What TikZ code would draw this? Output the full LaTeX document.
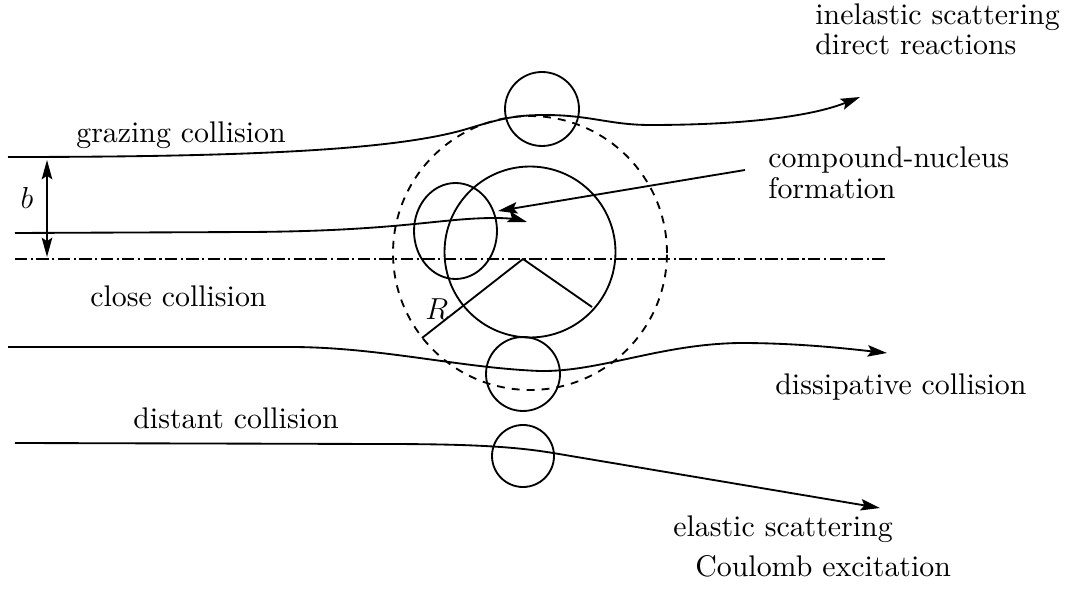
\documentclass[tikz,border=0pt]{standalone}
\usepackage{fontspec}
\setmainfont{lmroman10-regular.otf}
\usetikzlibrary{arrows.meta}
\begin{document}
\begin{tikzpicture}[x=0.02cm,y=-0.02cm,
  ln/.style={line width=1.05pt},
  tipped/.style={ln,-{Stealth[length=11pt,width=6.5pt,inset=2pt]}},
  lbl/.style={anchor=base west,inner sep=0pt,font=\fontsize{17}{20}\selectfont},
  mlbl/.style={inner sep=0pt,font=\fontsize{17}{20}\selectfont}]
\useasboundingbox (0,0) rectangle (1071,590);

% centres
\coordinate (ctr) at (530,252);
\coordinate (apex) at (523,259);
\coordinate (ctop) at (542,109);
\coordinate (cleft) at (455.5,231);
\coordinate (cbot) at (523,374);
\coordinate (clow) at (523,456);

% nucleus and interaction radius
\draw[ln] (ctr) circle[radius=1.71cm];
\draw[ln,dash pattern=on 4.5pt off 4pt] (530,253) circle[radius=2.74cm];

% projectiles
\draw[ln] (ctop) circle[radius=0.74cm];
\draw[ln] (cleft) ellipse[x radius=0.83cm,y radius=0.96cm];
\draw[ln] (cbot) circle[radius=0.74cm];
\draw[ln] (clow) circle[radius=0.62cm];

% axis
\coordinate (axL) at (15,259);
\coordinate (axR) at (885,259);
\draw[ln,dash pattern=on 7pt off 2pt on 1.2pt off 2pt] (axL) -- (axR);

% radii
\coordinate (rA) at (422,338);
\coordinate (rB) at (592,307);
\draw[ln] (rA) -- (apex) -- (rB);

% trajectories
\coordinate (g0) at (8,157);
\coordinate (g1) at (860,97);
\draw[tipped] (g0) .. controls (250,157) and (400,150) .. (470,128)
  .. controls (500,119) and (515,115) .. (545,115)
  .. controls (590,115) and (610,125) .. (650,125)
  .. controls (740,125) and (810,117) .. (g1);
\coordinate (k0) at (15,233);
\coordinate (k1) at (527,222);
\draw[tipped] (k0) -- (250,232) .. controls (400,231) and (440,218) .. (495,218)
  .. controls (510,218) and (520,220) .. (k1);
\coordinate (d0) at (8,347);
\coordinate (d1) at (887,353);
\draw[tipped] (d0) -- (290,347) .. controls (380,347) and (460,368) .. (540,371)
  .. controls (600,372) and (660,344) .. (740,343)
  .. controls (800,343) and (850,349) .. (d1);
\coordinate (e0) at (15,443);
\coordinate (e1) at (880,508);
\draw[tipped] (e0) -- (380,444) .. controls (460,444) and (510,445.8) .. (553,453) -- (e1);

% compound arrow
\coordinate (cnA) at (745,170);
\coordinate (cnB) at (498,211);
\draw[tipped] (cnA) -- (cnB);

% impact parameter
\coordinate (bT) at (47,160);
\coordinate (bB) at (47,257);
\draw[ln,{Stealth[length=11pt,width=6pt,inset=2pt]}-{Stealth[length=11pt,width=6pt,inset=2pt]}] (bT) -- (bB);

% labels
\node[mlbl] (lb) at (27,198) {$b$};
\node[mlbl,anchor=base west] (lR) at (425,320) {$R$};
\node[lbl] (t1) at (76,143) {grazing collision};
\node[lbl] (t2) at (90,307) {close collision};
\node[lbl] (t3) at (133,429) {distant collision};
\node[lbl] (t4) at (775,395) {dissipative collision};
\node[lbl] (t5) at (673,537) {elastic scattering};
\node[lbl] (t6) at (695,577) {Coulomb excitation};
\node[lbl] (t7) at (815,25) {inelastic scattering};
\node[lbl] (t8) at (815,55) {direct reactions};
\node[lbl] (t9) at (768,168) {compound-nucleus};
\node[lbl] (t10) at (768,199) {formation};
\end{tikzpicture}
\end{document}
